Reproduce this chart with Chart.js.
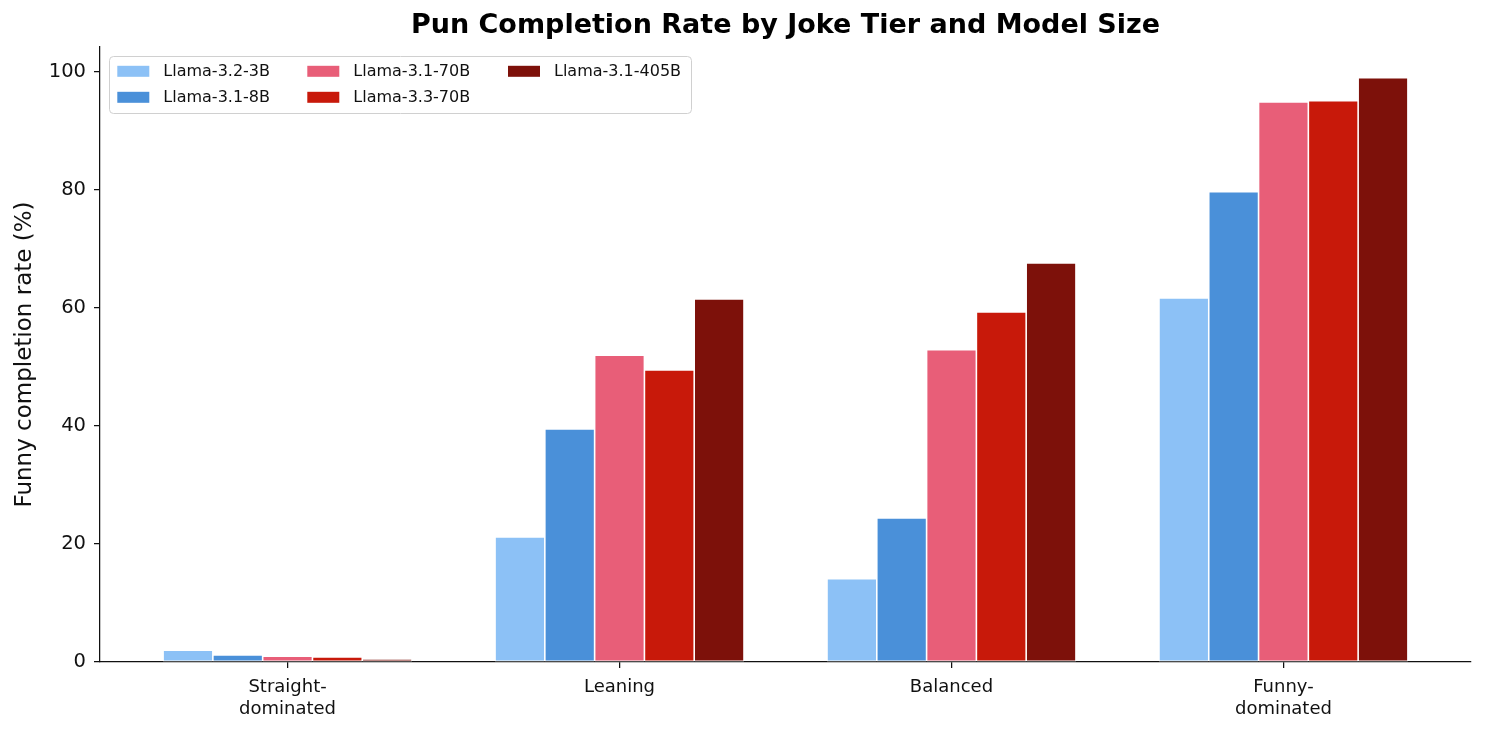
<!DOCTYPE html>
<html>
<head>
<meta charset="utf-8">
<script src="https://cdn.jsdelivr.net/npm/chart.js@4.4.1/dist/chart.umd.min.js"></script>
<style>
  html, body { margin: 0; padding: 0; background: #fff; }
  #wrap { width: 1485px; height: 733px; }
</style>
</head>
<body>
<div id="wrap"><canvas id="chart"></canvas></div>
<script>
const tiers = [["Straight-", "dominated"], "Leaning", "Balanced", ["Funny-", "dominated"]];
const models = ["Llama-3.2-3B", "Llama-3.1-8B", "Llama-3.1-70B", "Llama-3.3-70B", "Llama-3.1-405B"];
const llama32_3b = [2.0, 21.2, 14.1, 61.7];
const llama31_8b = [1.2, 39.5, 24.4, 79.7];
const llama31_70b = [1.0, 52.0, 52.9, 94.9];
const llama33_70b = [0.85, 49.5, 59.3, 95.1];
const llama31_405b = [0.5, 61.5, 67.6, 99.0];
const colors = ["#8cc1f6", "#4a90d9", "#e85e78", "#c8190a", "#7d110a"];

const FONT = "'DejaVu Sans', sans-serif";
const INK = "#111";
const series = [llama32_3b, llama31_8b, llama31_70b, llama33_70b, llama31_405b];

// matplotlib-style legend box sitting inside the plot, filled column by column
const insideLegend = {
  id: "insideLegend",
  afterDraw(chart) {
    const { ctx, chartArea } = chart;
    const x0 = chartArea.left + 9;
    const y0 = chartArea.top + 9;
    ctx.save();
    ctx.beginPath();
    ctx.roundRect(x0 + 0.5, y0 + 0.5, 582, 57, 4);
    ctx.fillStyle = "rgba(255,255,255,0.8)";
    ctx.fill();
    ctx.strokeStyle = "#d0d0d0";
    ctx.lineWidth = 1;
    ctx.stroke();
    ctx.font = "16px " + FONT;
    ctx.textBaseline = "middle";
    const colX = [8.3, 198.3, 399];
    chart.data.datasets.forEach((ds, i) => {
      const col = Math.floor(i / 2);
      const row = i % 2;
      const px = x0 + colX[col];
      const py = y0 + 15.3 + row * 26;
      ctx.fillStyle = ds.backgroundColor;
      ctx.fillRect(px, py - 5.5, 32, 11);
      ctx.fillStyle = INK;
      ctx.fillText(ds.label, px + 46, py + 0.5);
    });
    ctx.restore();
  },
};

const centeredTitle = {
  id: "centeredTitle",
  afterDraw(chart) {
    const { ctx, chartArea } = chart;
    ctx.save();
    ctx.font = "bold 27px " + FONT;
    ctx.fillStyle = "#000";
    ctx.textAlign = "center";
    ctx.textBaseline = "middle";
    ctx.fillText("Pun Completion Rate by Joke Tier and Model Size", (chartArea.left + chartArea.right) / 2, 26);
    ctx.restore();
  },
};

new Chart(document.getElementById("chart"), {
  type: "bar",
  data: {
    datasets: models.map((name, i) => ({
      label: name,
      data: series[i].map((v, j) => ({ x: j, y: v })),
      backgroundColor: colors[i],
      borderColor: "#ffffff",
      borderWidth: 0.8,
      borderSkipped: false,
      categoryPercentage: 0.75,
      barPercentage: 1.0,
    })),
  },
  options: {
    responsive: true,
    maintainAspectRatio: false,
    animation: false,
    layout: { padding: { top: 47, right: 14, left: 1, bottom: 0 } },
    plugins: {
      legend: { display: false },
      title: { display: false },
      tooltip: { enabled: false },
    },
    scales: {
      x: {
        type: "linear",
        offset: false,
        min: -0.565,
        max: 3.565,
        afterBuildTicks: (scale) => {
          scale.ticks = tiers.map((_, i) => ({ value: i }));
        },
        afterFit: (scale) => {
          scale.height = 71;
        },
        ticks: {
          color: INK,
          font: { family: FONT, size: 18 },
          padding: 9,
          maxRotation: 0,
          autoSkip: false,
          callback: (value) => tiers[value],
        },
        grid: {
          offset: false,
          drawOnChartArea: false,
          drawTicks: true,
          tickLength: 6,
          color: INK,
          lineWidth: 1.25,
        },
        border: { display: true, color: INK, width: 1.25 },
      },
      y: {
        min: 0,
        max: 104.2,
        afterFit: (scale) => {
          scale.width = 99;
        },
        ticks: {
          stepSize: 20,
          includeBounds: false,
          color: INK,
          font: { family: FONT, size: 19.5 },
          padding: 8,
        },
        grid: {
          drawOnChartArea: false,
          drawTicks: true,
          tickLength: 6,
          color: INK,
          lineWidth: 1.25,
        },
        border: { display: true, color: INK, width: 1.25 },
        title: {
          display: true,
          text: "Funny completion rate (%)",
          color: INK,
          font: { family: FONT, size: 23 },
          padding: { top: 10, bottom: 0 },
        },
      },
    },
  },
  plugins: [insideLegend, centeredTitle],
});
</script>
</body>
</html>
